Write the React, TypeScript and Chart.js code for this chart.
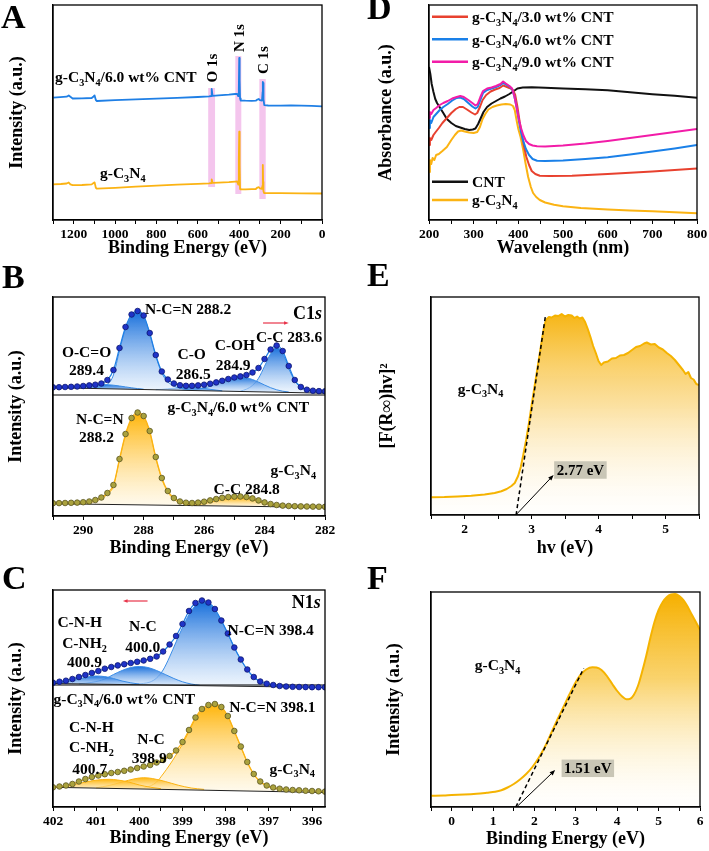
import React, { useEffect, useRef } from 'react';
import { Chart, registerables } from 'chart.js';

Chart.register(...registerables);

const FONT = "'Liberation Serif', 'Times New Roman', Times, serif";

/* ======================= DATA ======================= */

// ---- Panel A : XPS survey (binding energy eV, intensity a.u.) ----
const A_COMPOSITE: [number, number][] = [
  [1300, 122.3], [1265, 122.8], [1234, 123.3], [1224, 124.5], [1216, 123.2], [1205, 121.5], [1160, 121.6],
  [1113, 122], [1104, 123.5], [1099, 124.5], [1093, 120], [1088, 119], [1000, 119.8], [900, 120.6],
  [800, 121.4], [700, 122.2], [600, 123], [545, 123.6], [536, 124], [533, 131], [529, 124.2], [500, 124.6],
  [450, 125.3], [420, 126], [410, 126.2], [405, 124], [402, 130], [400, 162], [398, 140], [396, 121.5],
  [393, 119.5], [370, 119.3], [340, 119.2], [320, 119.3], [312, 120.5], [306, 121], [300, 119.8],
  [290, 119.5], [287, 128], [286, 138], [284.5, 127], [283.5, 137], [282, 121], [279, 114.8], [260, 114.5],
  [200, 114.4], [150, 114.5], [100, 114.4], [50, 114.1], [0, 113.6],
];
const A_PURE: [number, number][] = [
  [1300, 35.7], [1262, 36], [1234, 36.5], [1224, 37.5], [1216, 35.6], [1205, 34.8], [1160, 35], [1113, 35.6],
  [1104, 37], [1099, 37.6], [1093, 32.2], [1088, 31.3], [1000, 32.2], [900, 33.3], [800, 34.3], [700, 35.3],
  [600, 36.2], [545, 36.7], [536, 37], [533, 40.5], [529, 37.1], [500, 37.3], [450, 37.8], [420, 38.4],
  [410, 38.6], [405, 35.5], [402, 60], [400, 88.3], [398, 55], [396, 31], [393, 30.6], [370, 30.7],
  [340, 30.9], [320, 31], [312, 32.5], [306, 32.8], [300, 31.6], [290, 31.2], [288, 34], [286, 55],
  [284.5, 38], [283, 29], [280, 27], [260, 26.8], [200, 26.8], [100, 26.7], [0, 26.5],
];
const A_BAND_EV: [number, number][] = [[550, 517], [419, 390], [303, 272]];
const A_BAND_INT: [number, number][] = [[33, 132], [26, 164], [21, 141]];
const A_PEAK_NAMES = ['O 1s', 'N 1s', 'C 1s'];

// ---- Panel B : C1s high resolution ----
const B_EV = [291.0, 290.8, 290.6, 290.4, 290.2, 290.0, 289.8, 289.6, 289.4, 289.2, 289.0, 288.8, 288.6, 288.4,
  288.2, 288.0, 287.8, 287.6, 287.4, 287.2, 287.0, 286.8, 286.6, 286.4, 286.2, 286.0, 285.8, 285.6, 285.4,
  285.2, 285.0, 284.8, 284.6, 284.4, 284.2, 284.0, 283.8, 283.6, 283.4, 283.2, 283.0, 282.8, 282.6, 282.4,
  282.2, 282.0];
const B_COMPOSITE_DOTS = [128.7, 128.8, 129.0, 129.2, 129.5, 130.0, 130.6, 131.3, 132.5, 136.0, 146.0, 168.0,
  189.0, 201.5, 205.0, 200.5, 183.0, 161.0, 144.5, 136.5, 132.5, 130.8, 130.2, 130.2, 130.6, 131.3, 132.3,
  133.6, 135.2, 137.0, 138.5, 139.6, 141.0, 143.5, 148.0, 157.0, 166.5, 170.5, 165.0, 150.0, 136.0, 129.0,
  126.3, 125.3, 124.9, 124.7];
const B_PURE_DOTS = [12.8, 12.9, 13.0, 13.2, 13.4, 13.8, 14.5, 16.0, 18.5, 23.0, 31.0, 57.0, 82.0, 98.0, 103.5,
  100.0, 85.0, 59.0, 38.0, 25.0, 18.0, 14.5, 13.3, 13.0, 13.4, 14.3, 15.6, 17.0, 18.2, 19.0, 19.4, 19.5, 19.0,
  17.6, 15.6, 13.6, 12.0, 11.0, 10.4, 10.0, 9.8, 9.6, 9.5, 9.4, 9.3, 9.2];
const B_BASE_TOP: [number, number][] = [[291, 128.3], [282, 122.8]];
const B_BASE_BOT: [number, number][] = [[291, 12.3], [282, 8.6]];
const B_DIVIDER: [number, number][] = [[291, 121], [282, 121]];
const B_OCO: [number, number][] = [[290.8, 128.4], [290.6, 128.6], [290.4, 129.1], [290.2, 129.7], [290.0, 130.4],
  [289.8, 131.0], [289.6, 131.4], [289.4, 131.5], [289.2, 131.3], [289.0, 130.8], [288.8, 130.0], [288.6, 129.1],
  [288.4, 128.2], [288.2, 127.4], [288.0, 126.8]];
const B_NCN: [number, number][] = [[289.8, 127.8], [289.6, 128.2], [289.4, 129.2], [289.2, 131.5], [289.0, 141.0],
  [288.8, 165.5], [288.6, 187.5], [288.4, 200.5], [288.2, 204.2], [288.0, 200.0], [287.8, 182.0], [287.6, 160.0],
  [287.4, 143.0], [287.2, 134.0], [287.0, 130.0], [286.8, 127.8], [286.6, 126.5], [286.4, 125.9]];
const B_CO: [number, number][] = [[287.6, 126.4], [287.4, 126.6], [287.2, 127.1], [287.0, 127.8], [286.8, 128.4],
  [286.6, 128.6], [286.4, 128.6], [286.2, 128.2], [286.0, 127.6], [285.8, 126.7], [285.6, 125.9], [285.4, 125.2]];
const B_COH: [number, number][] = [[286.4, 126.1], [286.2, 126.6], [286.0, 128.0], [285.8, 129.8], [285.6, 132.1],
  [285.4, 134.5], [285.2, 136.9], [285.0, 138.4], [284.8, 139.0], [284.6, 138.3], [284.4, 136.5], [284.2, 133.9],
  [284.0, 131.0], [283.8, 128.3], [283.6, 126.2], [283.4, 124.8], [283.2, 124.0]];
const B_CC: [number, number][] = [[284.8, 124.9], [284.6, 126.8], [284.4, 130.6], [284.2, 137.7], [284.0, 149.8],
  [283.8, 162.2], [283.6, 168.7], [283.4, 163.0], [283.2, 147.5], [283.0, 135.0], [282.8, 128.4], [282.6, 125.8],
  [282.4, 124.5], [282.2, 123.6], [282.0, 123.2]];
const B_NCN_PURE: [number, number][] = [[290.4, 12.2], [290.0, 12.6], [289.8, 13.3], [289.6, 14.8], [289.4, 17.3],
  [289.2, 21.8], [289.0, 29.8], [288.8, 55.8], [288.6, 80.8], [288.4, 96.8], [288.2, 102.3], [288.0, 98.8],
  [287.8, 83.8], [287.6, 57.8], [287.4, 36.8], [287.2, 23.8], [287.0, 16.8], [286.8, 13.3], [286.6, 11.8],
  [286.4, 11.0], [286.2, 10.6]];
const B_CC_PURE: [number, number][] = [[286.6, 10.5], [286.4, 10.8], [286.2, 11.4], [286.0, 12.4], [285.8, 13.8],
  [285.6, 15.2], [285.4, 16.5], [285.2, 17.5], [285.0, 18.1], [284.8, 18.3], [284.6, 17.8], [284.4, 16.5],
  [284.2, 14.6], [284.0, 12.8], [283.8, 11.3], [283.6, 10.3], [283.4, 9.7], [283.2, 9.4]];

// ---- Panel C : N1s high resolution ----
const C_EV = [402.00, 401.85, 401.70, 401.55, 401.40, 401.25, 401.10, 400.95, 400.80, 400.65, 400.50, 400.35,
  400.20, 400.05, 399.90, 399.75, 399.60, 399.45, 399.30, 399.15, 399.00, 398.85, 398.70, 398.55, 398.40,
  398.25, 398.10, 397.95, 397.80, 397.65, 397.50, 397.35, 397.20, 397.05, 396.90, 396.75, 396.60, 396.45,
  396.30, 396.15, 396.00, 395.85, 395.70];
const C_COMPOSITE_DOTS = [124.3, 125.3, 126.3, 128.0, 130.0, 132.0, 134.0, 136.0, 138.3, 140.0, 141.6, 142.8,
  144.0, 145.2, 146.5, 148.2, 150.5, 155.5, 162.5, 171.0, 183.0, 196.0, 204.0, 206.5, 204.5, 198.0, 186.5,
  173.5, 159.5, 147.5, 137.5, 130.0, 125.5, 123.3, 122.0, 121.0, 120.5, 120.2, 120.0, 119.9, 119.8, 119.8, 119.7];
const C_PURE_DOTS = [19.7, 20.5, 21.5, 23.0, 25.5, 28.0, 30.0, 31.5, 32.8, 34.0, 35.0, 36.2, 37.5, 39.0, 40.5,
  42.0, 44.5, 47.0, 51.0, 56.5, 65.0, 77.0, 89.5, 98.0, 102.0, 103.0, 100.0, 91.0, 76.0, 60.5, 45.0, 33.0, 25.5,
  21.5, 19.5, 18.3, 17.5, 17.0, 16.7, 16.3, 16.0, 15.7, 15.4];
const C_BASE_TOP: [number, number][] = [[402, 123.5], [395.7, 119.5]];
const C_BASE_BOT: [number, number][] = [[402, 19.7], [395.7, 14.5]];
const C_DIVIDER: [number, number][] = [[402, 122], [395.7, 122]];
const C_NCN: [number, number][] = [[400.20, 122.5], [399.90, 123.6], [399.75, 125.0], [399.60, 129.0], [399.45, 137.0],
  [399.30, 150.0], [399.15, 165.0], [399.00, 179.5], [398.85, 192.5], [398.70, 201.5], [398.55, 205.0],
  [398.40, 203.8], [398.25, 197.2], [398.10, 186.2], [397.95, 173.2], [397.80, 159.2], [397.65, 147.2],
  [397.50, 137.2], [397.35, 129.7], [397.20, 125.2], [397.05, 122.9], [396.90, 121.5], [396.60, 120.5], [396.30, 120.0]];
const C_NC: [number, number][] = [[401.40, 123.2], [401.10, 124.6], [400.80, 128.0], [400.60, 132.5], [400.40, 136.5],
  [400.20, 139.5], [400.00, 140.5], [399.80, 139.5], [399.60, 136.5], [399.40, 132.5], [399.20, 128.5],
  [399.00, 125.2], [398.80, 123.0], [398.60, 121.7]];
const C_CNH: [number, number][] = [[401.95, 123.6], [401.80, 124.3], [401.60, 125.8], [401.40, 128.0], [401.20, 130.0],
  [401.00, 131.0], [400.80, 130.4], [400.60, 128.5], [400.40, 126.0], [400.20, 124.2], [400.00, 122.9]];
const C_NCN_PURE: [number, number][] = [[399.90, 19.0], [399.75, 21.0], [399.60, 25.0], [399.45, 33.0], [399.30, 42.0],
  [399.15, 52.0], [399.00, 63.0], [398.85, 75.5], [398.70, 88.0], [398.55, 96.5], [398.40, 100.8], [398.25, 102.0],
  [398.10, 99.3], [397.95, 90.5], [397.80, 75.5], [397.65, 60.0], [397.50, 44.5], [397.35, 32.5], [397.20, 25.0],
  [397.05, 21.0], [396.90, 18.8], [396.60, 16.9], [396.30, 15.8]];
const C_NC_PURE: [number, number][] = [[401.00, 19.2], [400.70, 21.5], [400.40, 25.0], [400.10, 28.3], [399.90, 29.3],
  [399.70, 28.5], [399.40, 25.5], [399.10, 21.8], [398.80, 19.0], [398.50, 17.6]];
const C_CNH_PURE: [number, number][] = [[401.85, 19.8], [401.60, 21.5], [401.35, 24.0], [401.10, 26.2], [400.85, 27.5],
  [400.70, 27.7], [400.50, 27.0], [400.25, 25.0], [400.00, 22.0], [399.75, 19.8], [399.50, 18.3]];

// ---- Panel D : UV-vis absorbance (nm, a.u.) ----
const D_CNT: [number, number][] = [[200, 153], [203, 146], [206, 136], [210, 128], [214, 121], [218, 117], [225, 112],
  [232, 107], [240, 101], [250, 97], [260, 94], [270, 92.5], [280, 91], [290, 90], [298, 90.5], [304, 91.5],
  [310, 96], [316, 102], [322, 108], [330, 113], [340, 116.5], [350, 119], [360, 121.5], [370, 123.5], [380, 126],
  [390, 129], [398, 131.5], [410, 132.5], [430, 132.8], [460, 132.3], [500, 131.5], [550, 130.8], [600, 129.7],
  [650, 127.8], [700, 125.8], [750, 124.2], [800, 122.3]];
const D_GCN: [number, number][] = [[200, 48], [202, 60], [205, 56], [208, 62], [212, 60], [216, 65], [222, 66], [230, 69],
  [240, 73], [250, 80], [258, 85], [265, 88.5], [272, 89.5], [280, 88.5], [290, 87.5], [300, 87], [308, 88],
  [314, 93], [320, 101], [326, 106], [333, 110.5], [342, 113], [352, 114.5], [362, 115.5], [372, 116], [382, 115.5],
  [388, 114], [392, 110], [396, 100], [400, 91], [405, 83], [411, 70], [416, 57], [422, 43], [428, 33], [433, 27],
  [440, 23], [448, 20], [460, 17.5], [480, 15.3], [500, 13.8], [540, 12], [600, 10.5], [650, 9.5], [700, 8.7],
  [750, 7.8], [800, 6.8]];
const D_CNT3: [number, number][] = [[200, 75], [202, 82], [205, 80], [210, 85], [215, 88], [222, 92], [230, 97], [240, 102],
  [250, 107], [260, 111], [268, 113], [276, 113], [285, 110.5], [295, 107.5], [303, 105.5], [308, 107], [314, 113],
  [320, 120], [328, 125], [338, 128.5], [348, 130.5], [358, 132], [366, 134.5], [372, 133.5], [380, 132], [388, 130],
  [393, 125], [398, 113], [403, 98], [408, 85], [413, 73], [418, 63], [424, 55], [430, 49], [438, 46], [448, 44.3],
  [470, 44], [520, 44.3], [600, 46], [700, 48.5], [800, 51.5]];
const D_CNT6: [number, number][] = [[200, 92], [202, 100], [205, 97], [210, 103], [216, 106], [224, 110], [232, 113],
  [242, 116], [252, 119.5], [262, 122], [270, 122.5], [278, 121], [288, 117], [297, 113.5], [304, 111.5], [309, 113],
  [315, 120], [321, 127], [330, 130], [340, 131.5], [350, 133], [360, 135], [366, 137], [372, 135.5], [380, 133.5],
  [386, 131], [391, 124], [396, 113], [401, 100], [406, 88], [411, 79], [417, 71], [424, 65], [432, 61], [442, 59.3],
  [460, 59], [500, 59.5], [550, 61], [600, 62.8], [650, 65.5], [700, 68.5], [750, 71.5], [800, 75]];
const D_CNT9: [number, number][] = [[200, 102], [202, 108], [205, 106], [210, 110], [216, 112], [224, 115], [232, 117],
  [242, 119], [252, 121.5], [262, 123], [270, 124], [278, 123], [288, 120], [297, 117], [304, 114.5], [309, 116],
  [315, 123], [321, 129], [330, 131.5], [340, 132.5], [350, 134], [360, 136], [366, 138.5], [372, 136.5], [380, 134],
  [386, 131.5], [391, 124], [396, 113], [401, 101], [406, 92], [411, 85], [417, 79], [424, 76], [432, 74.5],
  [442, 73.8], [460, 73.5], [500, 74.5], [550, 76.5], [600, 79], [650, 82], [700, 85], [750, 88], [800, 91]];
const D_NAMES = ['g-C_3N_4/3.0 wt% CNT', 'g-C_3N_4/6.0 wt% CNT', 'g-C_3N_4/9.0 wt% CNT', 'CNT', 'g-C_3N_4'];

// ---- Panel E : Kubelka-Munk plot ----
const E_CURVE: [number, number][] = [[1.5, 17.7], [1.7, 18], [1.9, 18.6], [2.1, 19.3], [2.3, 20.5], [2.45, 22],
  [2.55, 23.8], [2.63, 26], [2.7, 29], [2.75, 32], [2.8, 39], [2.84, 48], [2.88, 61], [2.92, 75], [2.96, 91],
  [3.0, 109], [3.04, 126], [3.08, 143], [3.12, 160], [3.16, 177], [3.19, 189], [3.22, 195.5], [3.26, 198],
  [3.3, 197.5], [3.35, 199.5], [3.4, 199], [3.45, 201], [3.5, 198.5], [3.55, 200], [3.6, 199.5], [3.64, 197],
  [3.68, 198.5], [3.72, 196.5], [3.76, 197.5], [3.8, 193], [3.84, 186], [3.88, 178], [3.92, 169], [3.96, 162],
  [4.0, 154], [4.04, 150], [4.08, 152.5], [4.14, 153.5], [4.2, 156.5], [4.26, 157], [4.32, 159.5], [4.38, 160],
  [4.44, 162], [4.5, 165], [4.56, 168], [4.62, 169], [4.68, 171.5], [4.72, 172.5], [4.78, 170.5], [4.84, 171],
  [4.9, 167.5], [4.96, 165.5], [5.02, 162], [5.08, 159], [5.14, 155], [5.2, 150], [5.26, 145], [5.3, 141],
  [5.34, 143], [5.38, 137], [5.42, 135.5], [5.46, 131], [5.5, 130]];
const E_TANGENT: [number, number][] = [[2.77, 0], [3.21, 200]];
const E_GAP = '2.77 eV';

// ---- Panel F : VB-XPS ----
const F_CURVE: [number, number][] = [[-0.5, 11.3], [-0.2, 11.5], [0, 12], [0.3, 12.4], [0.6, 13.2], [0.85, 14.3],
  [1.05, 15.3], [1.2, 16.8], [1.35, 19.5], [1.5, 23], [1.65, 27.5], [1.8, 33], [1.95, 40], [2.1, 49], [2.25, 60],
  [2.4, 73.5], [2.55, 87], [2.7, 100], [2.85, 113], [3.0, 125], [3.12, 132.5], [3.25, 137.5], [3.4, 139.8],
  [3.5, 139.5], [3.62, 137], [3.75, 131], [3.88, 123], [4.0, 116], [4.12, 110.5], [4.22, 107.8], [4.3, 108],
  [4.4, 112], [4.5, 121], [4.6, 135], [4.7, 151], [4.8, 169], [4.9, 185], [5.0, 197], [5.1, 205], [5.2, 210],
  [5.3, 212.5], [5.4, 213], [5.5, 211], [5.6, 207], [5.7, 200.5], [5.8, 192.5], [5.9, 185], [6.0, 177]];
const F_TANGENT: [number, number][] = [[1.55, 0], [3.19, 138.7]];
const F_VB = '1.51 eV';

/* ======================= LAYOUT / STYLE ======================= */

type Geo = { cx: number; cy: number; cw: number; ch: number; l: number; t: number; r: number; b: number };
const GEO: Record<string, Geo> = {
  A: { cx: 0, cy: 0, cw: 345, ch: 268, l: 53, t: 5, r: 322, b: 220 },
  B: { cx: 0, cy: 292, cw: 345, ch: 272, l: 53, t: 297, r: 325, b: 516 },
  C: { cx: 0, cy: 585, cw: 345, ch: 266, l: 53, t: 590, r: 325, b: 807 },
  D: { cx: 360, cy: 0, cw: 352, ch: 268, l: 429, t: 5, r: 697, b: 220 },
  E: { cx: 360, cy: 292, cw: 352, ch: 272, l: 431, t: 297, r: 699, b: 515 },
  F: { cx: 360, cy: 585, cw: 352, ch: 266, l: 431, t: 592, r: 700, b: 807 },
};
const LETTERS: [string, number, number][] = [
  ['A', 1, 0], ['B', 2, 260], ['C', 2, 561], ['D', 367, -9], ['E', 367, 258], ['F', 367, 561],
];

const COL = {
  blue: '#1f7fe5', yellow: '#fbb313', red: '#e8412f', dblue: '#1a80e8', magenta: '#f21ca8', black: '#111',
  dotBlue: '#1f33c8', dotBlueEdge: '#0c1670', dotOlive: '#aaa23e', dotOliveEdge: '#5a5520',
  compBlue: '#3a8ce6', arrowRed: '#e8344a', box: '#c9c6b6',
};
const BLUE_STOPS: [number, string][] = [[0, 'rgba(12,104,218,0.95)'], [1, 'rgba(228,240,253,0.55)']];
const ORANGE_STOPS: [number, string][] = [[0, 'rgba(255,178,0,0.95)'], [1, 'rgba(255,246,222,0.5)']];

/* ======================= HELPERS ======================= */

const xy = (arr: [number, number][]) => arr.map(([x, y]) => ({ x, y }));
const zip = (xs: number[], ys: number[]) => xs.map((x, i) => ({ x, y: ys[i] }));
const maxY = (arr: [number, number][]) => Math.max(...arr.map((p) => p[1]));
const minY = (arr: [number, number][]) => Math.min(...arr.map((p) => p[1]));

function isMajor(v: number, major: number) {
  const q = v / major;
  return Math.abs(q - Math.round(q)) < 1e-6;
}

function vGrad(chart: any, uTop: number, uBot: number, stops: [number, string][]) {
  const { ctx, chartArea, scales } = chart;
  if (!chartArea || !scales.y) return 'rgba(0,0,0,0)';
  const y0 = scales.y.getPixelForValue(uTop);
  const y1 = scales.y.getPixelForValue(uBot);
  if (!isFinite(y0) || !isFinite(y1) || y0 === y1) return stops[0][1];
  const g = ctx.createLinearGradient(0, y0, 0, y1);
  stops.forEach(([o, c]) => g.addColorStop(o, c));
  return g;
}

function richSegs(text: string) {
  const segs: { t: string; sub: boolean; it: boolean }[] = [];
  let it = false;
  for (let i = 0; i < text.length; i++) {
    const c = text[i];
    if (c === '|') { it = !it; continue; }
    if (c === '_' && i + 1 < text.length) { segs.push({ t: text[i + 1], sub: true, it }); i++; continue; }
    const last = segs[segs.length - 1];
    if (last && !last.sub && last.it === it) last.t += c;
    else segs.push({ t: c, sub: false, it });
  }
  return segs;
}
function segFont(s: { sub: boolean; it: boolean }, size: number) {
  return `${s.it ? 'italic ' : ''}bold ${s.sub ? size * 0.66 : size}px ${FONT}`;
}
function drawRich(ctx: CanvasRenderingContext2D, text: string, x: number, y: number, size: number, align: string) {
  const segs = richSegs(text);
  let total = 0;
  const ws = segs.map((s) => { ctx.font = segFont(s, size); const w = ctx.measureText(s.t).width; total += w; return w; });
  let cx = align === 'center' ? x - total / 2 : align === 'right' ? x - total : x;
  const base = y + size * 0.34;
  ctx.textAlign = 'left';
  ctx.textBaseline = 'alphabetic';
  segs.forEach((s, i) => {
    ctx.font = segFont(s, size);
    ctx.fillText(s.t, cx, s.sub ? base + size * 0.24 : base);
    cx += ws[i];
  });
  return total;
}
function drawArrow(ctx: CanvasRenderingContext2D, x1: number, y1: number, x2: number, y2: number, color: string, lw: number, head: number) {
  const ang = Math.atan2(y2 - y1, x2 - x1);
  ctx.save();
  ctx.strokeStyle = color; ctx.fillStyle = color; ctx.lineWidth = lw;
  ctx.beginPath(); ctx.moveTo(x1, y1);
  ctx.lineTo(x2 - Math.cos(ang) * head * 0.7, y2 - Math.sin(ang) * head * 0.7); ctx.stroke();
  ctx.beginPath(); ctx.moveTo(x2, y2);
  ctx.lineTo(x2 - head * Math.cos(ang - 0.38), y2 - head * Math.sin(ang - 0.38));
  ctx.lineTo(x2 - head * Math.cos(ang + 0.38), y2 - head * Math.sin(ang + 0.38));
  ctx.closePath(); ctx.fill();
  ctx.restore();
}
function drawBoxLabel(ctx: CanvasRenderingContext2D, text: string, cx: number, cy: number, size: number) {
  ctx.font = `bold ${size}px ${FONT}`;
  const w = ctx.measureText(text).width + 5;
  const h = size + 2.5;
  ctx.fillStyle = COL.box;
  ctx.fillRect(cx - w / 2, cy - h / 2, w, h);
  ctx.fillStyle = '#000';
  drawRich(ctx, text, cx, cy, size, 'center');
}

type Label = { t: string; x: number; y: number; a?: string; s?: number; rot?: boolean };

const framePlugin = {
  id: 'frame',
  afterDraw(chart: any) {
    const { ctx, chartArea: a } = chart;
    ctx.save();
    ctx.strokeStyle = '#000';
    ctx.lineWidth = 1.3;
    ctx.strokeRect(a.left, a.top, a.right - a.left, a.bottom - a.top);
    ctx.restore();
  },
};

function labelPlugin(labels: Label[], extra?: (chart: any) => void, before?: (chart: any) => void) {
  return {
    id: 'labels',
    beforeDatasetsDraw(chart: any) {
      if (before) { chart.ctx.save(); before(chart); chart.ctx.restore(); }
    },
    afterDatasetsDraw(chart: any) {
      const { ctx, scales } = chart;
      ctx.save();
      ctx.fillStyle = '#000';
      for (const L of labels) {
        const px = scales.x.getPixelForValue(L.x);
        const py = scales.y.getPixelForValue(L.y);
        if (L.rot) {
          ctx.save(); ctx.translate(px, py); ctx.rotate(-Math.PI / 2);
          drawRich(ctx, L.t, 0, 0, L.s || 15.5, 'center');
          ctx.restore();
        } else {
          drawRich(ctx, L.t, px, py, L.s || 15.5, L.a || 'center');
        }
      }
      if (extra) extra(chart);
      ctx.restore();
    },
  };
}

type XO = { min: number; max: number; reverse?: boolean; step: number; major: number; title: string; titlePad: number };
type YO = { max: number; title: string; titlePad: number };

function makeOptions(g: Geo, xo: XO, yo: YO) {
  const titleFont = { family: FONT, size: 18, weight: 'bold' as const };
  return {
    animation: false,
    responsive: false,
    maintainAspectRatio: false,
    events: [],
    layout: { padding: { top: g.t - g.cy, right: g.cx + g.cw - g.r, bottom: 0, left: 0 } },
    plugins: { legend: { display: false }, tooltip: { enabled: false } },
    elements: { point: { radius: 0 }, line: { borderJoinStyle: 'round' } },
    scales: {
      x: {
        type: 'linear', min: xo.min, max: xo.max, reverse: !!xo.reverse,
        afterFit: (s: any) => { s.height = g.cy + g.ch - g.b; },
        ticks: {
          stepSize: xo.step, autoSkip: false, includeBounds: false, maxRotation: 0, padding: 2, color: '#000',
          font: { family: FONT, size: 13.5, weight: 'bold' },
          callback: (v: number) => (isMajor(v, xo.major) ? String(Math.round(v)) : ''),
        },
        grid: { display: true, drawOnChartArea: false, drawTicks: true, tickLength: 4, color: '#000', lineWidth: 1 },
        border: { display: true, color: '#000', width: 1.3 },
        title: { display: true, text: xo.title, color: '#000', font: titleFont, padding: { top: 0, bottom: xo.titlePad } },
      },
      y: {
        type: 'linear', min: 0, max: yo.max,
        afterFit: (s: any) => { s.width = g.l - g.cx; },
        ticks: { display: false },
        grid: { display: false },
        border: { display: true, color: '#000', width: 1.3 },
        title: { display: true, text: yo.title, color: '#000', font: titleFont, padding: { top: yo.titlePad, bottom: 0 } },
      },
    },
  };
}

function lineDs(data: any[], color: string, width: number, order: number, extra: any = {}) {
  return { data, borderColor: color, borderWidth: width, pointRadius: 0, fill: false, tension: 0, order, ...extra };
}
function compDs(arr: [number, number][], baseIdx: number, color: string, stops: [number, string][], baseMin: number) {
  const top = maxY(arr);
  const bot = Math.min(minY(arr), baseMin);
  return {
    data: xy(arr), borderColor: color, borderWidth: 1, pointRadius: 0, tension: 0.4,
    cubicInterpolationMode: 'monotone', fill: baseIdx,
    backgroundColor: (c: any) => vGrad(c.chart, top, bot, stops), order: 3,
  };
}
function dotsDs(xs: number[], ys: number[], line: string, fillC: string, edge: string) {
  return {
    data: zip(xs, ys), showLine: true, borderColor: line, borderWidth: 1.2, tension: 0.4,
    cubicInterpolationMode: 'monotone', pointRadius: 2.8, pointBackgroundColor: fillC,
    pointBorderColor: edge, pointBorderWidth: 0.8, fill: false, order: 0,
  };
}

/* ======================= PANEL BUILDERS ======================= */

function buildA(g: Geo) {
  const labels: Label[] = [
    { t: 'g-C_3N_4/6.0 wt% CNT', x: 1290, y: 143, a: 'left' },
    { t: 'g-C_3N_4', x: 1073, y: 47, a: 'left' },
    { t: A_PEAK_NAMES[0], x: 533, y: 152, rot: true, s: 15 },
    { t: A_PEAK_NAMES[1], x: 400, y: 182, rot: true, s: 15 },
    { t: A_PEAK_NAMES[2], x: 283.6, y: 160, rot: true, s: 15 },
  ];
  const bands = (chart: any) => {
    const { ctx, scales } = chart;
    ctx.fillStyle = 'rgba(240,172,230,0.7)';
    A_BAND_EV.forEach(([lo, hi], i) => {
      const x0 = scales.x.getPixelForValue(lo), x1 = scales.x.getPixelForValue(hi);
      const y0 = scales.y.getPixelForValue(A_BAND_INT[i][0]), y1 = scales.y.getPixelForValue(A_BAND_INT[i][1]);
      ctx.fillRect(Math.min(x0, x1), Math.min(y0, y1), Math.abs(x1 - x0), Math.abs(y1 - y0));
    });
  };
  return {
    type: 'line',
    data: { datasets: [lineDs(xy(A_COMPOSITE), COL.blue, 1.8, 1), lineDs(xy(A_PURE), COL.yellow, 1.8, 1)] },
    options: makeOptions(g, { min: 0, max: 1300, reverse: true, step: 100, major: 200, title: 'Binding Energy (eV)', titlePad: 8.5 },
      { max: 215, title: 'Intensity (a.u.)', titlePad: 6.2 }),
    plugins: [framePlugin, labelPlugin(labels, undefined, bands)],
  };
}

function buildB(g: Geo) {
  const labels: Label[] = [
    { t: 'N-C=N 288.2', x: 287.96, y: 207, a: 'left' },
    { t: 'C1|s|', x: 282.1, y: 203, a: 'right', s: 18 },
    { t: 'O-C=O', x: 289.89, y: 164.3 }, { t: '289.4', x: 289.89, y: 146.7 },
    { t: 'C-O', x: 286.41, y: 162.7 }, { t: '286.5', x: 286.36, y: 142 },
    { t: 'C-OH', x: 284.98, y: 171 }, { t: '284.9', x: 285.04, y: 151 },
    { t: 'C-C 283.6', x: 283.19, y: 179.3 },
    { t: 'g-C_3N_4/6.0 wt% CNT', x: 284.87, y: 109.3 },
    { t: 'N-C=N', x: 289.45, y: 97.7 }, { t: '288.2', x: 289.56, y: 79.3 },
    { t: 'g-C_3N_4', x: 283.05, y: 46 },
    { t: 'C-C 284.8', x: 284.59, y: 27.7 },
  ];
  const arrow = (chart: any) => {
    const { ctx, scales } = chart;
    const y = scales.y.getPixelForValue(193);
    drawArrow(ctx, scales.x.getPixelForValue(284.05), y, scales.x.getPixelForValue(283.2), y, COL.arrowRed, 1.2, 5);
  };
  const bt = minY(B_BASE_TOP), bb = minY(B_BASE_BOT);
  const datasets = [
    lineDs(xy(B_BASE_TOP), '#222', 1, 1),
    lineDs(xy(B_BASE_BOT), '#222', 1, 1),
    lineDs(xy(B_DIVIDER), '#000', 1.2, 1),
    compDs(B_OCO, 0, COL.compBlue, BLUE_STOPS, bt),
    compDs(B_NCN, 0, COL.compBlue, BLUE_STOPS, bt),
    compDs(B_CO, 0, COL.compBlue, BLUE_STOPS, bt),
    compDs(B_COH, 0, COL.compBlue, BLUE_STOPS, bt),
    compDs(B_CC, 0, COL.compBlue, BLUE_STOPS, bt),
    compDs(B_NCN_PURE, 1, COL.yellow, ORANGE_STOPS, bb),
    compDs(B_CC_PURE, 1, COL.yellow, ORANGE_STOPS, bb),
    dotsDs(B_EV, B_COMPOSITE_DOTS, COL.blue, COL.dotBlue, COL.dotBlueEdge),
    dotsDs(B_EV, B_PURE_DOTS, COL.yellow, COL.dotOlive, COL.dotOliveEdge),
  ];
  return {
    type: 'line',
    data: { datasets },
    options: makeOptions(g, { min: 282, max: 291, reverse: true, step: 1, major: 2, title: 'Binding Energy (eV)', titlePad: 5.2 },
      { max: 219, title: 'Intensity (a.u.)', titlePad: 5.2 }),
    plugins: [framePlugin, labelPlugin(labels, arrow)],
  };
}

function buildC(g: Geo) {
  const labels: Label[] = [
    { t: 'N1|s|', x: 395.8, y: 205.3, a: 'right', s: 18 },
    { t: 'C-N-H', x: 401.38, y: 185.3 }, { t: 'C-NH_2', x: 401.27, y: 164.3 }, { t: '400.9', x: 401.27, y: 145.3 },
    { t: 'N-C', x: 399.92, y: 181 }, { t: '400.0', x: 399.92, y: 160.3 },
    { t: 'N-C=N 398.4', x: 396.96, y: 177 },
    { t: 'g-C_3N_4/6.0 wt% CNT', x: 400.35, y: 108.7 },
    { t: 'N-C=N 398.1', x: 396.92, y: 100.3 },
    { t: 'C-N-H', x: 401.11, y: 80.3 }, { t: 'C-NH_2', x: 401.11, y: 60.3 }, { t: '400.7', x: 401.15, y: 38.7 },
    { t: 'N-C', x: 399.73, y: 68.7 }, { t: '398.9', x: 399.77, y: 49.7 },
    { t: 'g-C_3N_4', x: 396.46, y: 38.7 },
  ];
  const arrow = (chart: any) => {
    const { ctx, scales } = chart;
    const y = scales.y.getPixelForValue(206);
    drawArrow(ctx, scales.x.getPixelForValue(399.81), y, scales.x.getPixelForValue(400.38), y, COL.arrowRed, 1.2, 5);
  };
  const bt = minY(C_BASE_TOP), bb = minY(C_BASE_BOT);
  const datasets = [
    lineDs(xy(C_BASE_TOP), '#222', 1, 1),
    lineDs(xy(C_BASE_BOT), '#222', 1, 1),
    lineDs(xy(C_DIVIDER), '#000', 1.2, 1),
    compDs(C_CNH, 0, COL.compBlue, BLUE_STOPS, bt),
    compDs(C_NC, 0, COL.compBlue, BLUE_STOPS, bt),
    compDs(C_NCN, 0, COL.compBlue, BLUE_STOPS, bt),
    compDs(C_CNH_PURE, 1, COL.yellow, ORANGE_STOPS, bb),
    compDs(C_NC_PURE, 1, COL.yellow, ORANGE_STOPS, bb),
    compDs(C_NCN_PURE, 1, COL.yellow, ORANGE_STOPS, bb),
    dotsDs(C_EV, C_COMPOSITE_DOTS, COL.blue, COL.dotBlue, COL.dotBlueEdge),
    dotsDs(C_EV, C_PURE_DOTS, COL.yellow, COL.dotOlive, COL.dotOliveEdge),
  ];
  return {
    type: 'line',
    data: { datasets },
    options: makeOptions(g, { min: 395.7, max: 402, reverse: true, step: 0.5, major: 1, title: 'Binding Energy (eV)', titlePad: 1.9 },
      { max: 217, title: 'Intensity (a.u.)', titlePad: 5.2 }),
    plugins: [framePlugin, labelPlugin(labels, arrow)],
  };
}

function buildD(g: Geo) {
  const colors = [COL.red, COL.dblue, COL.magenta, COL.black, COL.yellow];
  const legend = (chart: any) => {
    const { ctx, chartArea: a } = chart;
    const rows = [a.top + 11.7, a.top + 34.3, a.top + 56.7, a.bottom - 38.3, a.bottom - 20];
    rows.forEach((y, i) => {
      ctx.strokeStyle = colors[i];
      ctx.lineWidth = 2.5;
      ctx.beginPath(); ctx.moveTo(a.left + 3, y); ctx.lineTo(a.left + 39, y); ctx.stroke();
      ctx.fillStyle = '#000';
      drawRich(ctx, D_NAMES[i], a.left + 43, y, 15.5, 'left');
    });
  };
  const datasets = [
    lineDs(xy(D_CNT9), COL.magenta, 2, 0),
    lineDs(xy(D_CNT6), COL.dblue, 2, 1),
    lineDs(xy(D_CNT3), COL.red, 2, 2),
    lineDs(xy(D_CNT), COL.black, 2, 3),
    lineDs(xy(D_GCN), COL.yellow, 2, 4),
  ];
  return {
    type: 'line',
    data: { datasets },
    options: makeOptions(g, { min: 200, max: 800, step: 50, major: 100, title: 'Wavelength (nm)', titlePad: 8.5 },
      { max: 215, title: 'Absorbance (a.u.)', titlePad: 15.2 }),
    plugins: [framePlugin, labelPlugin([], legend)],
  };
}

function buildE(g: Geo) {
  const labels: Label[] = [{ t: 'g-C_3N_4', x: 2.24, y: 126.7 }];
  const extra = (chart: any) => {
    const { ctx, scales: { x, y } } = chart;
    drawArrow(ctx, x.getPixelForValue(2.78), y.getPixelForValue(1), x.getPixelForValue(3.33), y.getPixelForValue(40), '#000', 1, 6);
    drawBoxLabel(ctx, E_GAP, x.getPixelForValue(3.73), y.getPixelForValue(45), 15);
  };
  const top = maxY(E_CURVE);
  const datasets = [
    {
      data: xy(E_CURVE), borderColor: '#f5b300', borderWidth: 2, pointRadius: 0, tension: 0, fill: 'start', order: 2,
      backgroundColor: (c: any) => vGrad(c.chart, top, 0, [[0, 'rgba(246,178,10,0.95)'], [0.45, 'rgba(249,204,95,0.6)'], [1, 'rgba(255,250,240,0.12)']]),
    },
    lineDs(xy(E_TANGENT), '#000', 1.5, 0, { borderDash: [4, 3] }),
  ];
  return {
    type: 'line',
    data: { datasets },
    options: makeOptions(g, { min: 1.5, max: 5.5, step: 0.5, major: 1, title: 'hv (eV)', titlePad: 4.9 },
      { max: 218, title: '[F(R\u221E)hv]\u00B2', titlePad: 16.2 }),
    plugins: [framePlugin, labelPlugin(labels, extra)],
  };
}

function buildF(g: Geo) {
  const labels: Label[] = [{ t: 'g-C_3N_4', x: 1.11, y: 142 }];
  const extra = (chart: any) => {
    const { ctx, scales: { x, y } } = chart;
    drawArrow(ctx, x.getPixelForValue(1.58), y.getPixelForValue(0.5), x.getPixelForValue(2.5), y.getPixelForValue(37), '#000', 1, 6);
    drawBoxLabel(ctx, F_VB, x.getPixelForValue(3.29), y.getPixelForValue(38.7), 15);
  };
  const top = maxY(F_CURVE);
  const datasets = [
    {
      data: xy(F_CURVE), borderColor: '#f5b300', borderWidth: 2, pointRadius: 0, tension: 0.4,
      cubicInterpolationMode: 'monotone', fill: 'start', order: 2,
      backgroundColor: (c: any) => vGrad(c.chart, top, 0, [[0, 'rgba(246,176,0,1)'], [0.4, 'rgba(248,196,60,0.75)'], [1, 'rgba(255,252,240,0.1)']]),
    },
    lineDs(xy(F_TANGENT), '#000', 1.5, 0, { borderDash: [4, 3] }),
  ];
  return {
    type: 'line',
    data: { datasets },
    options: makeOptions(g, { min: -0.5, max: 6, step: 0.5, major: 1, title: 'Binding Energy (eV)', titlePad: 0.5 },
      { max: 215, title: 'Intensity (a.u.)', titlePad: 24 }),
    plugins: [framePlugin, labelPlugin(labels, extra)],
  };
}

/* ======================= COMPONENTS ======================= */

function ChartBox({ g, build }: { g: Geo; build: (g: Geo) => any }) {
  const ref = useRef<HTMLCanvasElement | null>(null);
  useEffect(() => {
    if (!ref.current) return;
    const chart = new Chart(ref.current, build(g));
    return () => chart.destroy();
  }, []);
  return (
    <canvas
      ref={ref}
      width={g.cw}
      height={g.ch}
      style={{ position: 'absolute', left: g.cx, top: g.cy, width: g.cw, height: g.ch, display: 'block' }}
    />
  );
}

export default function App() {
  return (
    <div style={{ position: 'absolute', left: 0, top: 0, width: 709, height: 851, overflow: 'hidden', background: '#fff' }}>
      <ChartBox g={GEO.A} build={buildA} />
      <ChartBox g={GEO.B} build={buildB} />
      <ChartBox g={GEO.C} build={buildC} />
      <ChartBox g={GEO.D} build={buildD} />
      <ChartBox g={GEO.E} build={buildE} />
      <ChartBox g={GEO.F} build={buildF} />
      {LETTERS.map(([t, x, y]) => (
        <div
          key={t}
          style={{
            position: 'absolute', left: x, top: y, fontFamily: FONT, fontWeight: 'bold', fontSize: 34,
            lineHeight: 1, color: '#000', pointerEvents: 'none',
          }}
        >
          {t}
        </div>
      ))}
    </div>
  );
}
